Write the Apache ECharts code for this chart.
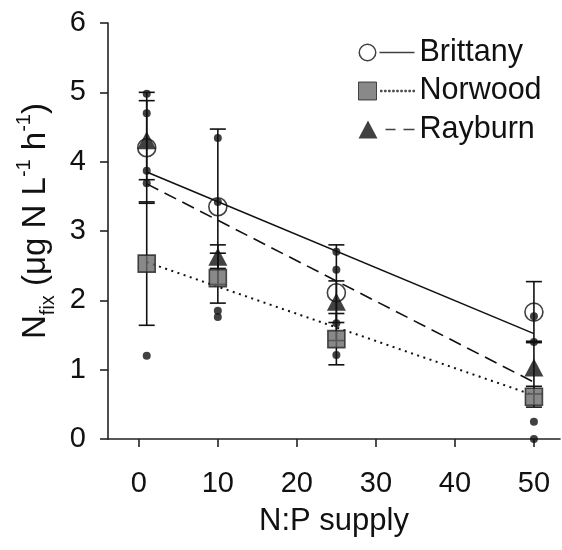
<!DOCTYPE html>
<html>
<head>
<meta charset="utf-8">
<script src="https://cdn.jsdelivr.net/npm/echarts@6/dist/echarts.min.js"></script>
<style>html,body{margin:0;padding:0;background:#fff}#c{width:562px;height:550px}</style>
</head>
<body>
<div id="c"></div>
<script>
// ---- data ----
const npSupply = [1, 10, 25, 50];
const seriesNames = ['Brittany', 'Norwood', 'Rayburn'];
const brittanyMean = [4.20, 3.35, 2.11, 1.83];
const brittanyErr  = [0.80, 1.12, 0.69, 0.44];
const norwoodMean  = [2.53, 2.32, 1.44, 0.61];
const norwoodErr   = [0.89, 0.36, 0.37, 0.15];
const rayburnMean  = [4.31, 2.63, 1.98, 1.03];
const rayburnErr   = [0.57, 0.17, 0.30, 0.38];
const fitX = [1, 50];
const brittanyFit = [3.85, 1.52];
const norwoodFit  = [2.55, 0.63];
const rayburnFit  = [3.68, 0.82];
const replicateX = [1, 1, 1, 1, 1, 10, 10, 10, 10, 25, 25, 25, 25, 50, 50, 50, 50];
const replicateY = [4.98, 4.70, 3.87, 3.69, 1.20, 4.34, 3.42, 1.85, 1.76, 2.70, 2.44, 1.67, 1.21, 1.77, 1.40, 0.25, 0.00];
const xTicks = [0, 10, 20, 30, 40, 50];
const yTicks = [0, 1, 2, 3, 4, 5, 6];

const font = '"Liberation Sans", Arial, sans-serif';
const ink = '#111';

function pairs(xs, ys) { return xs.map((x, i) => [x, ys[i]]); }
function triples(xs, ys, es) { return xs.map((x, i) => [x, ys[i], es[i]]); }

function errRender(params, api) {
  const x = api.value(0), y = api.value(1), e = api.value(2);
  const t = api.coord([x, y + e]);
  const b = api.coord([x, y - e]);
  const hw = 8;
  const st = { stroke: ink, lineWidth: 1.6 };
  return {
    type: 'group',
    children: [
      { type: 'line', shape: { x1: t[0], y1: t[1], x2: b[0], y2: b[1] }, style: st },
      { type: 'line', shape: { x1: t[0] - hw, y1: t[1], x2: t[0] + hw, y2: t[1] }, style: st },
      { type: 'line', shape: { x1: b[0] - hw, y1: b[1], x2: b[0] + hw, y2: b[1] }, style: st }
    ]
  };
}
function errSeries(name, mean, err) {
  return {
    type: 'custom', name: name + ' SE', renderItem: errRender, z: 2,
    encode: { x: 0, y: [1] }, data: triples(npSupply, mean, err), silent: true
  };
}

// legend icons (marker + line style)
let dots = '';
for (let k = 0; k < 9; k++) { const x0 = 22 + 4.05 * k; dots += ' M' + x0.toFixed(2) + ',8.2 H' + (x0 + 1.6).toFixed(2) + ' V9.8 H' + x0.toFixed(2) + ' Z'; }
const iconBrittany = 'path://M0,9 A9,9 0 1,0 18,9 A9,9 0 1,0 0,9 Z M1.5,9 A7.5,7.5 0 1,1 16.5,9 A7.5,7.5 0 1,1 1.5,9 Z M21,8.3 H56 V9.7 H21 Z';
const iconNorwood = 'path://M0,0 H18 V18 H0 Z' + dots;
const iconRayburn = 'path://M0,18 L9.5,0 L19,18 Z M27,8.3 H37 V9.7 H27 Z M45,8.3 H56 V9.7 H45 Z';

const chart = echarts.init(document.getElementById('c'), null, { renderer: 'canvas' });
chart.setOption({
  animation: false,
  backgroundColor: '#fff',
  textStyle: { fontFamily: font },
  grid: { left: 108, right: 2, top: 23, bottom: 111, containLabel: false },
  legend: {
    orient: 'vertical', left: 358, top: 37, padding: 0, itemGap: 7.5,
    itemWidth: 56, itemHeight: 18, selectedMode: false,
    textStyle: { fontSize: 30.5, color: ink, fontFamily: font, lineHeight: 30 },
    data: [
      { name: 'Brittany', icon: iconBrittany, itemStyle: { color: ink, borderWidth: 0 } },
      { name: 'Norwood', icon: iconNorwood, itemStyle: { color: '#6b6b6b', borderColor: '#222', borderWidth: 1 } },
      { name: 'Rayburn', icon: iconRayburn, itemStyle: { color: ink, borderWidth: 0 } }
    ]
  },
  xAxis: {
    type: 'value', min: -3.9, max: 53.3,
    name: 'N:P supply', nameLocation: 'middle', nameGap: 67,
    nameTextStyle: { fontSize: 31, color: ink, fontFamily: font },
    axisLine: { show: true, onZero: false, lineStyle: { color: '#222', width: 1.6 } },
    axisTick: { show: true, length: 8, customValues: xTicks, lineStyle: { color: '#222', width: 1.6 } },
    axisLabel: { customValues: xTicks, fontSize: 29, color: ink, margin: 30, fontFamily: font },
    splitLine: { show: false }
  },
  yAxis: {
    type: 'value', min: 0, max: 6, interval: 1,
    name: '{n|N}{sub|fix}{n| (μg N L}{sup|-1}{n| h}{sup|-1}{n|)}',
    nameLocation: 'middle', nameGap: 50, nameRotate: 90,
    nameTextStyle: {
      color: ink, fontFamily: font, padding: [0, 0, 0, 20],
      rich: {
        n: { fontSize: 33, lineHeight: 44, color: ink, fontFamily: font },
        sub: { fontSize: 20, lineHeight: 20, verticalAlign: 'bottom', color: ink, fontFamily: font },
        sup: { fontSize: 20, lineHeight: 20, verticalAlign: 'top', color: ink, fontFamily: font }
      }
    },
    axisLine: { show: true, onZero: false, lineStyle: { color: '#222', width: 1.6 } },
    axisTick: { show: true, length: 8, lineStyle: { color: '#222', width: 1.6 } },
    axisLabel: { fontSize: 29, color: ink, margin: 22, fontFamily: font },
    splitLine: { show: false }
  },
  series: [
    errSeries('Brittany', brittanyMean, brittanyErr),
    errSeries('Norwood', norwoodMean, norwoodErr),
    errSeries('Rayburn', rayburnMean, rayburnErr),
    { type: 'line', name: 'Brittany fit', data: pairs(fitX, brittanyFit), symbol: 'none', z: 2,
      lineStyle: { color: ink, width: 1.6, type: 'solid' } },
    { type: 'line', name: 'Norwood fit', data: pairs(fitX, norwoodFit), symbol: 'none', z: 2,
      lineStyle: { color: ink, width: 2, type: [2, 4.5] } },
    { type: 'line', name: 'Rayburn fit', data: pairs(fitX, rayburnFit), symbol: 'none', z: 2,
      lineStyle: { color: ink, width: 1.6, type: [13, 7] } },
    { type: 'scatter', name: 'Brittany', data: pairs(npSupply, brittanyMean), symbol: 'circle', symbolSize: 18, z: 3,
      itemStyle: { color: 'rgba(255,255,255,0)', borderColor: ink, borderWidth: 1.6 } },
    { type: 'scatter', name: 'Norwood', data: pairs(npSupply, norwoodMean), symbol: 'rect', symbolSize: 17, z: 3,
      itemStyle: { color: '#6b6b6b', borderColor: '#222', borderWidth: 1.6 } },
    { type: 'scatter', name: 'Rayburn', data: pairs(npSupply, rayburnMean), symbol: 'triangle', symbolSize: [19, 18], z: 3,
      itemStyle: { color: ink, borderWidth: 0 } },
    { type: 'scatter', name: 'replicates', data: pairs(replicateX, replicateY), symbol: 'circle', symbolSize: 8, z: 4,
      itemStyle: { color: ink } }
  ]
});
</script>
</body>
</html>
